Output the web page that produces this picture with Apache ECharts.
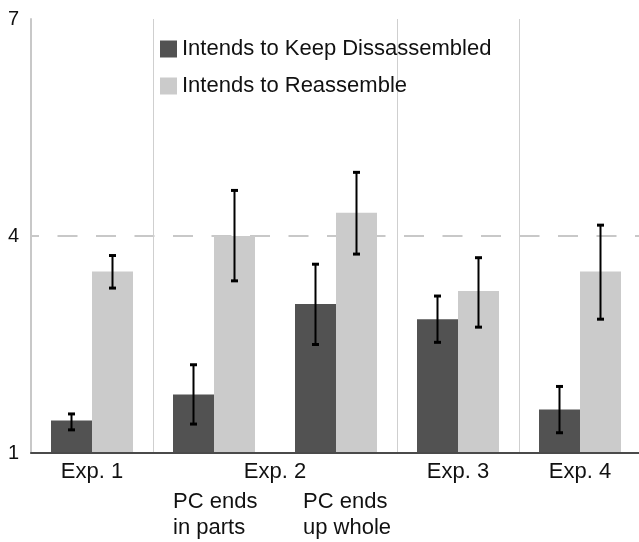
<!DOCTYPE html>
<html>
<head>
<meta charset="utf-8">
<script src="https://cdn.jsdelivr.net/npm/echarts@6/dist/echarts.min.js"></script>
<style>html,body{margin:0;padding:0;background:#fff;}#chart{width:639px;height:542px;}</style>
</head>
<body>
<div id="chart"></div>
<script>
// categories (bar positions)
var categories = ['Exp1', 'Exp2a', 'Exp2b', 'Exp3', 'Exp4'];
var subLabels = ['', 'PC ends\nin parts', 'PC ends\nup whole', '', ''];
var groupLabelPos = [0.5, 2, 3.5, 4.5];
var groupLabels = ['Exp. 1', 'Exp. 2', 'Exp. 3', 'Exp. 4'];
var seriesNames = ['Intends to Keep Dissassembled', 'Intends to Reassemble'];
var keepValues = [1.45, 1.81, 3.06, 2.85, 1.60];
var keepLow = [1.32, 1.40, 2.50, 2.53, 1.28];
var keepHigh = [1.54, 2.22, 3.61, 3.17, 1.92];
var reValues = [3.51, 4.00, 4.32, 3.24, 3.51];
var reLow = [3.28, 3.38, 3.75, 2.74, 2.85];
var reHigh = [3.73, 4.63, 4.88, 3.70, 4.15];
var yTicks = [1, 4, 7];
var refLine = 4;

var BAR_W = 41;
var font = '"Liberation Sans", Arial, sans-serif';
var subStyleKeys = ['a', 'a', 'b', 'a', 'a'];

function errData(low, high) {
  return categories.map(function (c, i) { return [i, low[i], high[i]]; });
}
function errRender(side) {
  return function (params, api) {
    var i = api.value(0);
    var pLo = api.coord([i, api.value(1)]);
    var pHi = api.coord([i, api.value(2)]);
    var x = pLo[0] + side * BAR_W / 2;
    var cap = 3.5;
    var style = { stroke: '#000', lineWidth: 2 };
    return {
      type: 'group',
      children: [
        { type: 'line', shape: { x1: x, y1: pHi[1], x2: x, y2: pLo[1] }, style: style },
        { type: 'line', shape: { x1: x - cap, y1: pHi[1], x2: x + cap, y2: pHi[1] }, style: { stroke: '#000', lineWidth: 3 } },
        { type: 'line', shape: { x1: x - cap, y1: pLo[1], x2: x + cap, y2: pLo[1] }, style: { stroke: '#000', lineWidth: 3 } }
      ]
    };
  };
}

var chart = echarts.init(document.getElementById('chart'));
chart.setOption({
  animation: false,
  backgroundColor: '#fff',
  grid: { left: 31, top: 19, right: -2, bottom: 89, containLabel: false, outerBoundsMode: 'none' },
  legend: {
    data: seriesNames,
    orient: 'vertical',
    left: 155, top: 33,
    itemWidth: 17, itemHeight: 17,
    itemGap: 15,
    icon: 'rect',
    textStyle: { fontFamily: font, fontSize: 22, color: '#111', lineHeight: 22 },
    selectedMode: false
  },
  xAxis: [{
    type: 'category',
    data: categories,
    position: 'bottom',
    axisLine: { show: true, lineStyle: { color: '#4a4a4a', width: 2 } },
    axisTick: { show: false },
    splitLine: {
      show: true,
      interval: function (index) { return index !== 2 && index !== 0; },
      lineStyle: { color: '#cfcfcf', width: 1 }
    },
    axisLabel: {
      margin: 36,
      interval: 0,
      formatter: function (v, i) {
        var s = subLabels[i];
        if (!s) return '';
        var k = subStyleKeys[i];
        return s.split('\n').map(function (l) { return '{' + k + '|' + l + '}'; }).join('\n');
      },
      rich: {
        a: { fontFamily: font, fontSize: 22, color: '#111', width: 88, align: 'left', lineHeight: 26, padding: [0, 0, 0, 6] },
        b: { fontFamily: font, fontSize: 22, color: '#111', width: 88, align: 'left', lineHeight: 26, padding: [0, 0, 0, 22] }
      }
    },
    z: 3
  }, {
    type: 'value',
    min: 0, max: 5, interval: 0.5,
    position: 'bottom',
    axisLine: { show: false },
    axisTick: { show: false },
    splitLine: { show: false },
    axisLabel: {
      margin: 6,
      fontFamily: font, fontSize: 22, color: '#111', lineHeight: 26,
      formatter: function (v) {
        var k = groupLabelPos.indexOf(Math.round(v * 2) / 2);
        return k >= 0 ? groupLabels[k] : '';
      }
    }
  }],
  yAxis: {
    type: 'value',
    min: 1, max: 7, interval: 1,
    axisLine: { show: true, lineStyle: { color: '#c8c8c8', width: 2 } },
    axisTick: { show: false },
    splitLine: { show: false },
    axisLabel: {
      margin: 12,
      fontFamily: font, fontSize: 20, color: '#111',
      formatter: function (v) { return yTicks.indexOf(v) >= 0 ? String(v) : ''; }
    }
  },
  series: [{
    name: seriesNames[0],
    type: 'bar',
    data: keepValues,
    barWidth: BAR_W,
    barGap: '0%',
    itemStyle: { color: '#525252' },
    markLine: {
      silent: true,
      symbol: 'none',
      label: { show: false },
      lineStyle: { color: '#c8c8c8', width: 2, type: [20, 18.5], dashOffset: 12 },
      data: [{ yAxis: refLine }],
      z: 1
    },
    z: 2
  }, {
    name: seriesNames[1],
    type: 'bar',
    data: reValues,
    barWidth: BAR_W,
    barGap: '0%',
    itemStyle: { color: '#cbcbcb' },
    z: 2
  }, {
    type: 'custom',
    name: 'errKeep',
    data: errData(keepLow, keepHigh),
    renderItem: errRender(-1),
    encode: { x: 0, y: [1, 2] },
    z: 5
  }, {
    type: 'custom',
    name: 'errRe',
    data: errData(reLow, reHigh),
    renderItem: errRender(1),
    encode: { x: 0, y: [1, 2] },
    z: 5
  }]
});
</script>
</body>
</html>
